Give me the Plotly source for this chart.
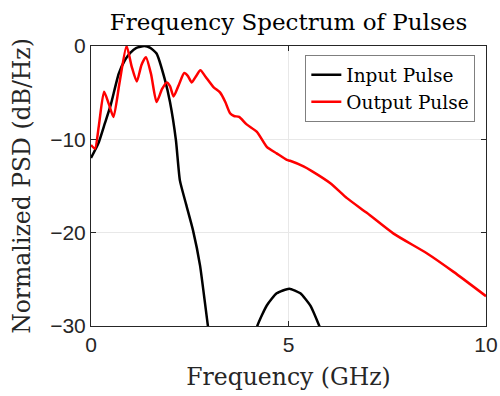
import plotly.graph_objects as go

# Input pulse spectrum (GHz, normalized dB/Hz)
freq_in = [0, 0.19, 0.35, 0.5, 0.7, 0.86, 1.0, 1.15, 1.35, 1.5, 1.66, 1.87, 2.0,
           2.15, 2.25, 2.41, 2.58, 2.76, 2.96, 3.2, 3.5, 3.8, 4.0, 4.21, 4.45, 4.7,
           5.02, 5.3, 5.55, 5.78, 6.0, 6.3]
psd_in = [-12.0, -10.4, -8.3, -6.3, -3.0, -1.5, -0.7, -0.2, 0.0, -0.2, -0.8, -3.6,
          -6.0, -10.1, -14.4, -17.0, -19.7, -23.5, -30.0, -37.0, -50.0, -40.0, -34.0,
          -30.0, -27.8, -26.5, -26.0, -26.5, -27.8, -30.0, -32.5, -38.0]

# Output pulse spectrum
freq_out = [0, 0.1, 0.2, 0.33, 0.45, 0.57, 0.72, 0.9, 1.03, 1.16, 1.28, 1.39, 1.52,
            1.66, 1.8, 1.92, 2.0, 2.09, 2.22, 2.36, 2.45, 2.55, 2.65, 2.77, 2.9, 3.1,
            3.27, 3.4, 3.52, 3.62, 3.75, 3.94, 4.2, 4.45, 4.7, 4.96, 5.04, 5.38, 5.59,
            6.06, 6.48, 6.99, 7.66, 8.5, 9.18, 10.0]
psd_out = [-10.6, -11.0, -8.5, -4.9, -6.2, -7.6, -4.0, 0.0, -2.2, -3.8, -2.0, -1.2,
           -3.0, -6.0, -4.6, -3.9, -4.3, -5.4, -4.2, -2.9, -3.2, -3.9, -3.3, -2.6,
           -3.3, -4.4, -5.0, -6.0, -7.2, -7.5, -7.6, -8.4, -9.2, -10.8, -11.5, -12.2,
           -12.3, -12.9, -13.4, -14.7, -16.3, -17.9, -20.1, -22.2, -24.2, -26.8]

x_ticks = [0, 5, 10]
y_ticks = [-30, -20, -10, 0]

serif = "DejaVu Serif"
sans = "Liberation Sans"
axis_color = "#262626"

fig = go.Figure()
fig.add_trace(go.Scatter(x=freq_in, y=psd_in, mode="lines", name="Input Pulse",
                         line=dict(color="black", width=2.5, shape="spline", smoothing=0.5)))
fig.add_trace(go.Scatter(x=freq_out, y=psd_out, mode="lines", name="Output Pulse",
                         line=dict(color="red", width=2.5, shape="spline", smoothing=0.6)))

fig.update_layout(
    width=500, height=396,
    margin=dict(l=91, r=14, t=46, b=70, autoexpand=False),
    paper_bgcolor="white", plot_bgcolor="white",
    showlegend=True,
    title=dict(text="Frequency Spectrum of Pulses", x=0.5, xref="paper",
               y=0.944, yref="container", xanchor="center", yanchor="middle",
               font=dict(family=serif, size=23, color="black")),
    legend=dict(x=0.973, y=0.967, xanchor="right", yanchor="top",
                bgcolor="white", bordercolor="#7f7f7f", borderwidth=1,
                font=dict(family=serif, size=18.5, color="black"),
                tracegroupgap=0, itemwidth=30),
)
fig.update_xaxes(range=[0, 10], tickvals=x_ticks, ticks="inside", ticklen=5,
                 tickcolor=axis_color, showline=True, linecolor=axis_color, linewidth=1,
                 mirror="ticks", showgrid=True, gridcolor="#e8e8e8", gridwidth=1,
                 zeroline=False, automargin=False,
                 tickfont=dict(family=sans, size=21, color=axis_color),
                 title=dict(text="Frequency (GHz)", standoff=13,
                            font=dict(family=serif, size=23.5, color=axis_color)))
fig.update_yaxes(range=[-30, 0], tickvals=y_ticks, ticks="inside", ticklen=5,
                 tickcolor=axis_color, showline=True, linecolor=axis_color, linewidth=1,
                 mirror="ticks", showgrid=True, gridcolor="#e8e8e8", gridwidth=1,
                 zeroline=False, automargin=False,
                 tickfont=dict(family=sans, size=21, color=axis_color),
                 title=dict(text="Normalized PSD (dB/Hz)", standoff=12,
                            font=dict(family=serif, size=23.5, color=axis_color)))

fig.write_html("out.html")
